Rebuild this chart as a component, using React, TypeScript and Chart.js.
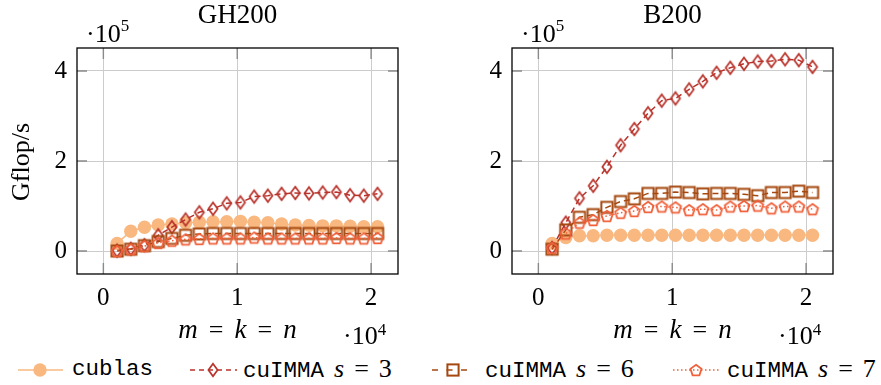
import React, { useEffect, useRef } from 'react';
import { Chart, registerables } from 'chart.js';
Chart.register(...registerables);

// ---- data ----
const sizes = [1024, 2048, 3072, 4096, 5120, 6144, 7168, 8192, 9216, 10240, 11264, 12288, 13312, 14336, 15360, 16384, 17408, 18432, 19456, 20480];

const gh200Cublas = [17000, 44000, 53000, 58000, 60000, 63000, 64000, 65000, 65000, 66000, 64000, 63000, 60000, 58000, 57000, 56000, 56000, 55000, 54000, 54000];
const gh200S3 = [1000, 5000, 13000, 35000, 53000, 70000, 86000, 94000, 106000, 108000, 121000, 123000, 127000, 129000, 128000, 130000, 131000, 124000, 123000, 127000];
const gh200S6 = [0, 4000, 12000, 21000, 28000, 35000, 38000, 39000, 39000, 39000, 39000, 39000, 39000, 39000, 39000, 39000, 39000, 39000, 39000, 39000];
const gh200S7 = [0, 4000, 11000, 18000, 23000, 26000, 27000, 28000, 28000, 28000, 30000, 28000, 28000, 28000, 28000, 28000, 29000, 28000, 28000, 29000];

const b200Cublas = [17000, 30000, 34000, 34000, 35000, 35000, 35000, 35000, 35000, 35000, 35000, 35000, 35000, 35000, 35000, 35000, 35000, 35000, 35000, 35000];
const b200S3 = [7000, 63000, 117000, 145000, 187000, 235000, 271000, 306000, 334000, 339000, 359000, 377000, 396000, 407000, 416000, 421000, 422000, 426000, 424000, 409000];
const b200S6 = [4000, 47000, 75000, 81000, 97000, 110000, 116000, 128000, 128000, 131000, 130000, 127000, 128000, 128000, 126000, 123000, 130000, 130000, 133000, 130000];
const b200S7 = [7000, 39000, 63000, 69000, 78000, 85000, 89000, 98000, 99000, 97000, 91000, 93000, 91000, 99000, 100000, 101000, 95000, 99000, 99000, 93000];

const xTicks = [0, 10000, 20000];
const yTicks = [0, 200000, 400000];
const xTickLabels = ['0', '1', '2'];
const yTickLabels = ['0', '2', '4'];

// ---- style ----
const C_CUBLAS = '#f9b880';
const C_S3 = '#b8322a';
const C_S6 = '#a5480f';
const C_S7 = '#f0603a';
const SERIF = '"Liberation Serif", serif';
const MONO = '"Liberation Mono", monospace';

function shapePath(ctx: CanvasRenderingContext2D, shape: string, c: number) {
  ctx.beginPath();
  if (shape === 'diamond') {
    ctx.moveTo(c, c - 6.3);
    ctx.lineTo(c + 4.6, c);
    ctx.lineTo(c, c + 6.3);
    ctx.lineTo(c - 4.6, c);
    ctx.closePath();
  } else if (shape === 'square') {
    ctx.rect(c - 5.6, c - 5.6, 11.2, 11.2);
  } else if (shape === 'pentagon') {
    const r = 5.8;
    for (let i = 0; i < 5; i++) {
      const a = -Math.PI / 2 + (i * 2 * Math.PI) / 5;
      const px = c + r * Math.cos(a);
      const py = c + r * Math.sin(a) + 0.6;
      if (i === 0) ctx.moveTo(px, py);
      else ctx.lineTo(px, py);
    }
    ctx.closePath();
  }
}

function makeMarker(shape: string, color: string, lw: number): HTMLCanvasElement {
  const size = 20;
  const cv = document.createElement('canvas');
  cv.width = size;
  cv.height = size;
  const ctx = cv.getContext('2d')!;
  ctx.strokeStyle = color;
  ctx.lineWidth = lw;
  ctx.lineJoin = 'miter';
  shapePath(ctx, shape, size / 2);
  ctx.stroke();
  return cv;
}

// run: [text, font, dy, gapAfter]
function drawRuns(ctx: CanvasRenderingContext2D, runs: [string, string, number, number][], x: number, y: number, align: 'left' | 'center') {
  let total = 0;
  for (const [t, f, , g] of runs) {
    ctx.font = f;
    total += ctx.measureText(t).width + g;
  }
  let cx = align === 'center' ? x - total / 2 : x;
  ctx.textAlign = 'left';
  ctx.textBaseline = 'alphabetic';
  for (const [t, f, dy, g] of runs) {
    ctx.font = f;
    ctx.fillText(t, cx, y + dy);
    cx += ctx.measureText(t).width + g;
  }
}

type PanelProps = {
  title: string;
  cublas: number[];
  s3: number[];
  s6: number[];
  s7: number[];
  left: number;
  width: number;
  axisLeft: number;
  padRight: number;
  yLabel: boolean;
};

function Panel(p: PanelProps) {
  const ref = useRef<HTMLCanvasElement | null>(null);
  useEffect(() => {
    const canvas = ref.current!;
    const mDiamond = makeMarker('diamond', C_S3, 1.7);
    const mSquare = makeMarker('square', C_S6, 2);
    const mPent = makeMarker('pentagon', C_S7, 1.8);
    const pts = (arr: number[]) => sizes.map((x, i) => ({ x, y: arr[i] }));

    const decor = {
      id: 'decor',
      beforeDatasetsDraw(chart: any) {
        const { ctx, chartArea: a } = chart;
        const xs = chart.scales.x;
        const ys = chart.scales.y;
        ctx.save();
        ctx.strokeStyle = '#8a8a8a';
        ctx.lineWidth = 1.4;
        ctx.beginPath();
        for (const v of xTicks) {
          const px = xs.getPixelForValue(v);
          ctx.moveTo(px, a.bottom);
          ctx.lineTo(px, a.bottom - 11);
          ctx.moveTo(px, a.top);
          ctx.lineTo(px, a.top + 11);
        }
        for (const v of yTicks) {
          const py = ys.getPixelForValue(v);
          ctx.moveTo(a.left, py);
          ctx.lineTo(a.left + 10, py);
          ctx.moveTo(a.right, py);
          ctx.lineTo(a.right - 10, py);
        }
        ctx.stroke();
        ctx.restore();
      },
      afterDraw(chart: any) {
        const { ctx, chartArea: a } = chart;
        const xs = chart.scales.x;
        ctx.save();
        ctx.strokeStyle = '#000';
        ctx.lineWidth = 1.3;
        ctx.strokeRect(a.left, a.top, a.right - a.left, a.bottom - a.top);
        ctx.fillStyle = '#000';
        const cx = (a.left + a.right) / 2;
        drawRuns(ctx, [[p.title, `27px ${SERIF}`, 0, 0]], cx, 23, 'center');
        drawRuns(ctx, [['·10', `26px ${SERIF}`, 0, 0], ['5', `17px ${SERIF}`, -11, 0]], a.left + 9, 42, 'left');
        drawRuns(
          ctx,
          [
            ['m', `italic 27px ${SERIF}`, 0, 11],
            ['=', `26px ${SERIF}`, 0, 11],
            ['k', `italic 27px ${SERIF}`, 0, 11],
            ['=', `26px ${SERIF}`, 0, 11],
            ['n', `italic 27px ${SERIF}`, 0, 0],
          ],
          cx,
          338,
          'center'
        );
        drawRuns(ctx, [['·10', `26px ${SERIF}`, 0, 0], ['4', `17px ${SERIF}`, -9, 0]], xs.getPixelForValue(20000) - 28, 344, 'left');
        if (p.yLabel) {
          ctx.translate(29, 162);
          ctx.rotate(-Math.PI / 2);
          ctx.font = `26px ${SERIF}`;
          ctx.textAlign = 'center';
          ctx.textBaseline = 'alphabetic';
          ctx.fillText('Gflop/s', 0, 0);
        }
        ctx.restore();
      },
    };

    const chart = new Chart(canvas, {
      type: 'line',
      data: {
        datasets: [
          {
            label: 'cublas',
            data: pts(p.cublas),
            borderColor: C_CUBLAS,
            backgroundColor: C_CUBLAS,
            borderWidth: 1.6,
            pointStyle: 'circle',
            pointRadius: 6.7,
            pointBorderWidth: 0,
            order: 4,
          },
          {
            label: 'cuIMMA s = 3',
            data: pts(p.s3),
            borderColor: C_S3,
            borderWidth: 1.5,
            borderDash: [6, 4],
            pointStyle: mDiamond as any,
            order: 3,
          },
          {
            label: 'cuIMMA s = 6',
            data: pts(p.s6),
            borderColor: C_S6,
            borderWidth: 1.5,
            borderDash: [6, 4],
            pointStyle: mSquare as any,
            order: 2,
          },
          {
            label: 'cuIMMA s = 7',
            data: pts(p.s7),
            borderColor: C_S7,
            borderWidth: 1.5,
            borderDash: [1.5, 2.5],
            pointStyle: mPent as any,
            order: 1,
          },
        ] as any,
      },
      options: {
        animation: false,
        responsive: false,
        events: [],
        layout: { padding: { top: 48, right: p.padRight, left: 0, bottom: 0 } },
        elements: { line: { tension: 0 } },
        plugins: { legend: { display: false }, tooltip: { enabled: false }, title: { display: false } },
        scales: {
          x: {
            type: 'linear',
            min: -1970,
            max: 22010,
            afterBuildTicks: (s: any) => {
              s.ticks = xTicks.map((v) => ({ value: v }));
            },
            afterFit: (s: any) => {
              s.height = 71;
            },
            ticks: {
              font: { family: SERIF, size: 25 },
              color: '#000',
              padding: 9,
              maxRotation: 0,
              callback: (v: any) => xTickLabels[xTicks.indexOf(Number(v))] ?? '',
            },
            grid: { color: '#cccccc', lineWidth: 1, drawTicks: false },
            border: { display: false },
          },
          y: {
            type: 'linear',
            min: -51000,
            max: 451000,
            afterBuildTicks: (s: any) => {
              s.ticks = yTicks.map((v) => ({ value: v }));
            },
            afterFit: (s: any) => {
              s.width = p.axisLeft;
            },
            ticks: {
              font: { family: SERIF, size: 25 },
              color: '#000',
              padding: 10,
              callback: (v: any) => yTickLabels[yTicks.indexOf(Number(v))] ?? '',
            },
            grid: { color: '#cccccc', lineWidth: 1, drawTicks: false },
            border: { display: false },
          },
        },
      } as any,
      plugins: [decor],
    });
    return () => chart.destroy();
  }, []);
  return (
    <canvas
      ref={ref}
      width={p.width}
      height={345}
      style={{ position: 'absolute', left: p.left, top: 0, width: p.width, height: 345 }}
    />
  );
}

function Sample(props: { x1: number; x2: number; mx: number; color: string; dash?: string; shape: string }) {
  const { x1, x2, mx, color, dash, shape } = props;
  const w = x2 - x1;
  const cx = mx - x1;
  let marker: React.ReactNode = null;
  if (shape === 'circle') marker = <circle cx={cx} cy={10} r={6.7} fill={color} />;
  if (shape === 'diamond')
    marker = <polygon points={`${cx},3.7 ${cx + 4.6},10 ${cx},16.3 ${cx - 4.6},10`} fill="none" stroke={color} strokeWidth={1.7} />;
  if (shape === 'square') marker = <rect x={cx - 5.6} y={4.4} width={11.2} height={11.2} fill="none" stroke={color} strokeWidth={2} />;
  if (shape === 'pentagon') {
    const ptsArr: string[] = [];
    for (let i = 0; i < 5; i++) {
      const a = -Math.PI / 2 + (i * 2 * Math.PI) / 5;
      ptsArr.push(`${cx + 5.8 * Math.cos(a)},${10.6 + 5.8 * Math.sin(a)}`);
    }
    marker = <polygon points={ptsArr.join(' ')} fill="none" stroke={color} strokeWidth={1.8} />;
  }
  return (
    <svg width={w} height={20} style={{ position: 'absolute', left: x1, top: 360 }}>
      <line x1={0} y1={10} x2={w} y2={10} stroke={color} strokeWidth={1.6} strokeDasharray={dash} />
      {marker}
    </svg>
  );
}

const legendText: React.CSSProperties = {
  position: 'absolute',
  top: 354,
  lineHeight: '30px',
  whiteSpace: 'nowrap',
  fontFamily: MONO,
  fontSize: 22.5,
  color: '#000',
};
const mathStyle: React.CSSProperties = { fontFamily: SERIF, fontSize: 26, marginLeft: 10 };
const eqStyle: React.CSSProperties = { margin: '0 10px' };

function MathS(props: { v: string }) {
  return (
    <span style={mathStyle}>
      <i>s</i>
      <span style={eqStyle}>=</span>
      {props.v}
    </span>
  );
}

export default function App() {
  return (
    <div style={{ position: 'fixed', left: 0, top: 0, width: 881, height: 385, background: '#fff', overflow: 'hidden' }}>
      <Panel title="GH200" cublas={gh200Cublas} s3={gh200S3} s6={gh200S6} s7={gh200S7} left={0} width={430} axisLeft={77} padRight={32} yLabel={true} />
      <Panel title="B200" cublas={b200Cublas} s3={b200S3} s6={b200S6} s7={b200S7} left={435} width={446} axisLeft={77} padRight={48} yLabel={false} />

      <Sample x1={18} x2={63} mx={40} color={C_CUBLAS} shape="circle" />
      <div style={{ ...legendText, left: 72 }}>cublas</div>

      <Sample x1={190} x2={237} mx={213} color={C_S3} dash="5 4" shape="diamond" />
      <div style={{ ...legendText, left: 243 }}>
        cuIMMA<MathS v="3" />
      </div>

      <Sample x1={432} x2={472} mx={453} color={C_S6} dash="6 8.5" shape="square" />
      <div style={{ ...legendText, left: 485 }}>
        cuIMMA<MathS v="6" />
      </div>

      <Sample x1={673} x2={720} mx={696} color={C_S7} dash="1.5 2.5" shape="pentagon" />
      <div style={{ ...legendText, left: 727 }}>
        cuIMMA<MathS v="7" />
      </div>
    </div>
  );
}
